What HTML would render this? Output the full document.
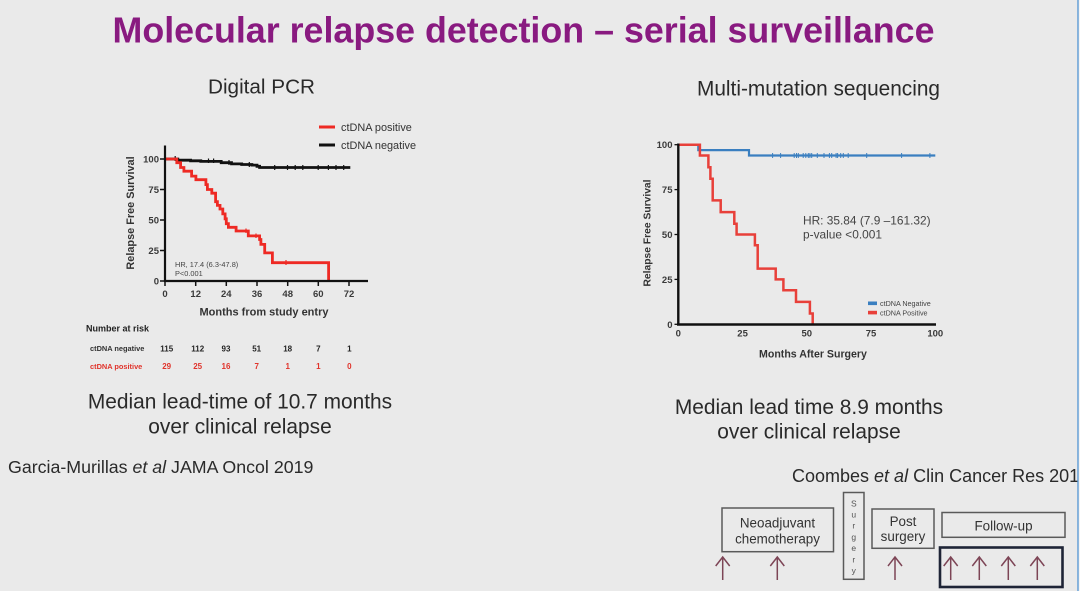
<!DOCTYPE html>
<html><head><meta charset="utf-8">
<style>
html,body{margin:0;padding:0;background:#eaeaea;}
svg{display:block;}
text{font-family:"Liberation Sans",Arial,sans-serif;}
</style></head>
<body>
<svg width="1080" height="591" viewBox="0 0 1080 591" xmlns="http://www.w3.org/2000/svg">
<rect x="0" y="0" width="1080" height="591" fill="#eaeaea"/>

<!-- Title -->
<text x="112.5" y="42.7" font-size="35.8" font-weight="bold" fill="#891a80" textLength="822" lengthAdjust="spacingAndGlyphs">Molecular relapse detection – serial surveillance</text>

<text x="208" y="93.3" font-size="20.7" fill="#2a2a2a" textLength="107" lengthAdjust="spacingAndGlyphs">Digital PCR</text>
<text x="697" y="95.7" font-size="20.8" fill="#2a2a2a" textLength="243" lengthAdjust="spacingAndGlyphs">Multi-mutation sequencing</text>

<!-- LEFT CHART -->
<g>
  <!-- legend -->
  <line x1="319" y1="127" x2="335" y2="127" stroke="#ee2a24" stroke-width="3"/>
  <text x="341" y="130.8" font-size="10.9" fill="#333">ctDNA positive</text>
  <line x1="319" y1="145" x2="335" y2="145" stroke="#111" stroke-width="3"/>
  <text x="341" y="148.8" font-size="10.9" fill="#333">ctDNA negative</text>

  <!-- black curve -->
  <path d="M165,159 H177.8 V160.2 H190.6 V160.8 H200.8 V161.4 H221.2 V162.7 H231.5 V163.9 H241.7 V164.5 H251.9 V165.1 H257 V166.3 H259.6 V167.5 H350.3" fill="none" stroke="#111" stroke-width="2.8"/>
  <g stroke="#111" stroke-width="1.2">
    <line x1="175.2" y1="156" x2="175.2" y2="161"/>
    <line x1="208.5" y1="158.5" x2="208.5" y2="163"/>
    <line x1="213.6" y1="158.5" x2="213.6" y2="163"/>
    <line x1="229" y1="160" x2="229" y2="165"/>
    <line x1="249.3" y1="162" x2="249.3" y2="167"/>
    <line x1="274.7" y1="165" x2="274.7" y2="170"/>
    <line x1="287.5" y1="165" x2="287.5" y2="170"/>
    <line x1="295.2" y1="165" x2="295.2" y2="170"/>
    <line x1="302.8" y1="165" x2="302.8" y2="170"/>
    <line x1="318.2" y1="165" x2="318.2" y2="170"/>
    <line x1="328.4" y1="165" x2="328.4" y2="170"/>
    <line x1="336" y1="165" x2="336" y2="170"/>
    <line x1="343.7" y1="165" x2="343.7" y2="170"/>
  </g>
  <!-- red curve -->
  <path d="M165,159 H176.8 V162.7 H180.6 V167.5 H183.9 V171.2 H191.6 V176.1 H195.9 V179.7 H205.9 V184.6 H207.4 V189.5 H211.8 V193.2 H215.6 V201.7 H217.4 V205.4 H220 V209 H222.8 V213.9 H225.1 V218.8 H226.3 V223.7 H228.4 V227.3 H236.1 V231 H248.3 V235.9 H259.6 V239.5 H260.9 V244.4 H264.7 V252.9 H272.4 V262.7 H328.6 V281" fill="none" stroke="#ee2a24" stroke-width="2.8"/>
  <g stroke="#ee2a24" stroke-width="1.2">
    <line x1="246" y1="228.5" x2="246" y2="233"/>
    <line x1="256" y1="233.5" x2="256" y2="238"/>
    <line x1="286" y1="260" x2="286" y2="265"/>
  </g>

  <!-- axes -->
  <line x1="165" y1="145.5" x2="165" y2="282" stroke="#111" stroke-width="2.2"/>
  <line x1="164" y1="281" x2="368" y2="281" stroke="#111" stroke-width="2.2"/>
  <g stroke="#111" stroke-width="1.5">
    <line x1="160" y1="159" x2="165" y2="159"/>
    <line x1="160" y1="189.5" x2="165" y2="189.5"/>
    <line x1="160" y1="220" x2="165" y2="220"/>
    <line x1="160" y1="250.5" x2="165" y2="250.5"/>
    <line x1="160" y1="281" x2="165" y2="281"/>
    <line x1="165" y1="281" x2="165" y2="286"/>
    <line x1="195.7" y1="281" x2="195.7" y2="286"/>
    <line x1="226.3" y1="281" x2="226.3" y2="286"/>
    <line x1="257" y1="281" x2="257" y2="286"/>
    <line x1="287.7" y1="281" x2="287.7" y2="286"/>
    <line x1="318.3" y1="281" x2="318.3" y2="286"/>
    <line x1="349" y1="281" x2="349" y2="286"/>
  </g>
  <g font-size="9.5" font-weight="bold" fill="#3a3a3a" text-anchor="end">
    <text x="159" y="162.4">100</text>
    <text x="159" y="192.9">75</text>
    <text x="159" y="223.4">50</text>
    <text x="159" y="253.9">25</text>
    <text x="159" y="284.4">0</text>
  </g>
  <g font-size="9.5" font-weight="bold" fill="#3a3a3a" text-anchor="middle">
    <text x="165" y="297">0</text>
    <text x="195.7" y="297">12</text>
    <text x="226.3" y="297">24</text>
    <text x="257" y="297">36</text>
    <text x="287.7" y="297">48</text>
    <text x="318.3" y="297">60</text>
    <text x="349" y="297">72</text>
  </g>
  <text x="264" y="315.7" font-size="11" font-weight="bold" fill="#333" text-anchor="middle">Months from study entry</text>
  <text transform="translate(134,213) rotate(-90)" x="0" y="0" font-size="10.9" font-weight="bold" fill="#333" text-anchor="middle">Relapse Free Survival</text>
  <text x="175" y="267" font-size="7.4" fill="#444">HR, 17.4 (6.3-47.8)</text>
  <text x="175" y="276" font-size="7.4" fill="#444">P&lt;0.001</text>

  <!-- number at risk -->
  <text x="86" y="331.5" font-size="9" font-weight="bold" fill="#222">Number at risk</text>
  <text x="90" y="351" font-size="7.4" font-weight="bold" fill="#333">ctDNA negative</text>
  <text x="90" y="369" font-size="7.4" font-weight="bold" fill="#e0332b">ctDNA positive</text>
  <g font-size="8" font-weight="bold" fill="#222" text-anchor="middle">
    <text x="166.7" y="351.3">115</text>
    <text x="197.7" y="351.3">112</text>
    <text x="226" y="351.3">93</text>
    <text x="256.7" y="351.3">51</text>
    <text x="287.7" y="351.3">18</text>
    <text x="318.3" y="351.3">7</text>
    <text x="349.3" y="351.3">1</text>
  </g>
  <g font-size="8" font-weight="bold" fill="#e0332b" text-anchor="middle">
    <text x="166.7" y="369">29</text>
    <text x="197.7" y="369">25</text>
    <text x="226" y="369">16</text>
    <text x="256.7" y="369">7</text>
    <text x="287.7" y="369">1</text>
    <text x="318.3" y="369">1</text>
    <text x="349.3" y="369">0</text>
  </g>
</g>

<!-- left captions -->
<text x="240" y="408.5" font-size="20.9" fill="#2a2a2a" text-anchor="middle">Median lead-time of 10.7 months</text>
<text x="240" y="433.5" font-size="20.9" fill="#2a2a2a" text-anchor="middle">over clinical relapse</text>
<text x="8" y="473" font-size="17.8" fill="#2a2a2a">Garcia-Murillas <tspan font-style="italic">et al</tspan> JAMA Oncol 2019</text>

<!-- RIGHT CHART -->
<g>
  <!-- blue curve -->
  <path d="M678.3,144.7 H698.3 V150.1 H749 V155.5 H935.3" fill="none" stroke="#3a7fc0" stroke-width="2.2"/>
  <g stroke="#3a7fc0" stroke-width="1">
    <line x1="772.6" y1="153" x2="772.6" y2="158"/>
    <line x1="780.6" y1="153" x2="780.6" y2="158"/>
    <line x1="794.2" y1="153" x2="794.2" y2="158"/>
    <line x1="796.5" y1="153" x2="796.5" y2="158"/>
    <line x1="798.3" y1="153" x2="798.3" y2="158"/>
    <line x1="803.2" y1="153" x2="803.2" y2="158"/>
    <line x1="805.8" y1="153" x2="805.8" y2="158"/>
    <line x1="808.3" y1="153" x2="808.3" y2="158"/>
    <line x1="809.9" y1="153" x2="809.9" y2="158"/>
    <line x1="811.7" y1="153" x2="811.7" y2="158"/>
    <line x1="817.3" y1="153" x2="817.3" y2="158"/>
    <line x1="824" y1="153" x2="824" y2="158"/>
    <line x1="829.4" y1="153" x2="829.4" y2="158"/>
    <line x1="831.7" y1="153" x2="831.7" y2="158"/>
    <line x1="836.1" y1="153" x2="836.1" y2="158"/>
    <line x1="837.6" y1="153" x2="837.6" y2="158"/>
    <line x1="840.7" y1="153" x2="840.7" y2="158"/>
    <line x1="843.3" y1="153" x2="843.3" y2="158"/>
    <line x1="848.2" y1="153" x2="848.2" y2="158"/>
    <line x1="866.7" y1="153" x2="866.7" y2="158"/>
    <line x1="901.6" y1="153" x2="901.6" y2="158"/>
    <line x1="929.9" y1="153" x2="929.9" y2="158"/>
  </g>
  <!-- red curve -->
  <path d="M678.3,144.7 H699.9 V155.5 H708.4 V167.2 H710.4 V178.8 H712.7 V200.4 H720.7 V212.1 H734.3 V223.7 H736.6 V234.5 H754.9 V245.3 H757.7 V268.6 H775.7 V279.4 H783.4 V290.2 H796 V301.9 H809.9 V313.5 H812.7 V324.3" fill="none" stroke="#e8403a" stroke-width="2.5"/>

  <!-- axes -->
  <line x1="678.3" y1="143.5" x2="678.3" y2="325.5" stroke="#111" stroke-width="2.4"/>
  <line x1="677" y1="324.5" x2="936" y2="324.5" stroke="#111" stroke-width="2.4"/>
  <g stroke="#111" stroke-width="1.3">
    <line x1="674.5" y1="144.7" x2="678.3" y2="144.7"/>
    <line x1="674.5" y1="189.6" x2="678.3" y2="189.6"/>
    <line x1="674.5" y1="234.5" x2="678.3" y2="234.5"/>
    <line x1="674.5" y1="279.4" x2="678.3" y2="279.4"/>
    <line x1="674.5" y1="324.3" x2="678.3" y2="324.3"/>
  </g>
  <g font-size="9.5" font-weight="bold" fill="#3a3a3a" text-anchor="end">
    <text x="672.5" y="148.2">100</text>
    <text x="672.5" y="193.1">75</text>
    <text x="672.5" y="238">50</text>
    <text x="672.5" y="282.9">25</text>
    <text x="672.5" y="327.8">0</text>
  </g>
  <g font-size="9.5" font-weight="bold" fill="#3a3a3a" text-anchor="middle">
    <text x="678.3" y="336.3">0</text>
    <text x="742.6" y="336.3">25</text>
    <text x="806.8" y="336.3">50</text>
    <text x="871" y="336.3">75</text>
    <text x="935.3" y="336.3">100</text>
  </g>
  <text x="813" y="357.7" font-size="10.6" font-weight="bold" fill="#333" text-anchor="middle">Months After Surgery</text>
  <text transform="translate(650.5,233) rotate(-90)" x="0" y="0" font-size="10.3" font-weight="bold" fill="#333" text-anchor="middle">Relapse Free Survival</text>

  <text x="803" y="224.3" font-size="11.9" fill="#444">HR: 35.84 (7.9 –161.32)</text>
  <text x="803" y="238.3" font-size="11.9" fill="#444">p-value &lt;0.001</text>

  <rect x="868" y="301.5" width="9" height="3.6" fill="#3a7fc0"/>
  <text x="880" y="306" font-size="7.2" fill="#444">ctDNA Negative</text>
  <rect x="868" y="310.8" width="9" height="3.6" fill="#e8403a"/>
  <text x="880" y="315.3" font-size="7.2" fill="#444">ctDNA Positive</text>
</g>

<!-- right captions -->
<text x="809" y="414" font-size="20.9" fill="#2a2a2a" text-anchor="middle">Median lead time 8.9 months</text>
<text x="809" y="438.5" font-size="20.9" fill="#2a2a2a" text-anchor="middle">over clinical relapse</text>
<text x="792" y="482" font-size="18" fill="#2a2a2a">Coombes <tspan font-style="italic">et al</tspan> Clin Cancer Res 2019</text>

<!-- timeline diagram -->
<g fill="none" stroke="#5a5a5a" stroke-width="1.5">
  <rect x="722" y="508" width="111.5" height="43.7"/>
  <rect x="843.5" y="492.5" width="20.5" height="86.8"/>
  <rect x="872" y="509" width="62" height="39.3"/>
  <rect x="942" y="512.5" width="123" height="24.8"/>
</g>
<rect x="940" y="547.5" width="122.5" height="39.5" fill="none" stroke="#1e2436" stroke-width="2.6"/>
<g font-size="13.4" fill="#333" text-anchor="middle">
  <text x="777.5" y="527.5">Neoadjuvant</text>
  <text x="777.5" y="543.5">chemotherapy</text>
  <text x="903" y="526">Post</text>
  <text x="903" y="541">surgery</text>
  <text x="1003.5" y="530.5">Follow-up</text>
</g>
<g font-size="8.5" fill="#555" text-anchor="middle">
  <text x="853.8" y="506.3">S</text>
  <text x="853.8" y="517.5">u</text>
  <text x="853.8" y="528.7">r</text>
  <text x="853.8" y="539.9">g</text>
  <text x="853.8" y="551.1">e</text>
  <text x="853.8" y="562.3">r</text>
  <text x="853.8" y="573.5">y</text>
</g>
<g stroke="#7d4556" stroke-width="1.5" fill="none">
  <path d="M722.7,580 V557 M715.7,566 L722.7,557 L729.7,566"/>
  <path d="M777.3,580 V557 M770.3,566 L777.3,557 L784.3,566"/>
  <path d="M895,580 V557 M888,566 L895,557 L902,566"/>
  <path d="M950.7,580 V557 M943.7,566 L950.7,557 L957.7,566"/>
  <path d="M979.3,580 V557 M972.3,566 L979.3,557 L986.3,566"/>
  <path d="M1008.3,580 V557 M1001.3,566 L1008.3,557 L1015.3,566"/>
  <path d="M1037.3,580 V557 M1030.3,566 L1037.3,557 L1044.3,566"/>
</g>

<!-- right edge -->
<rect x="1077.3" y="0" width="1.5" height="591" fill="#5b9bd5"/>
<rect x="1078.8" y="0" width="1.2" height="591" fill="#f4f4f4"/>
</svg>
</body></html>
